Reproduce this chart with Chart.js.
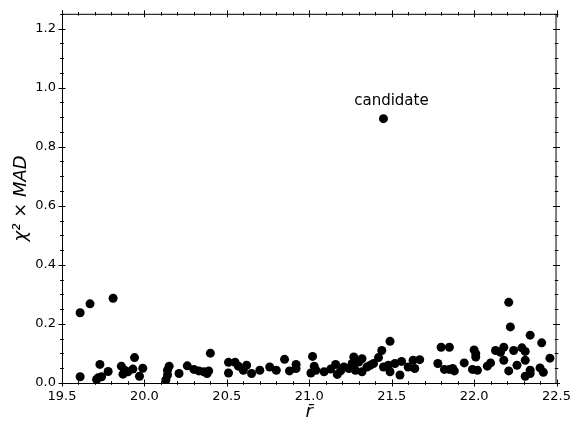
<!DOCTYPE html>
<html>
<head>
<meta charset="utf-8">
<script src="https://cdn.jsdelivr.net/npm/chart.js@4"></script>
<style>
  html, body { margin: 0; padding: 0; background: #fff; }
  #wrap { width: 577px; height: 424px; }
</style>
</head>
<body>
<div id="wrap"><canvas id="myChart"></canvas></div>
<script>
// mean r magnitude of each object
let rMean = [
  19.61, 19.67, 19.81, 19.61, 19.71, 19.72, 19.74, 19.73, 19.78, 19.86,
  19.87, 19.88, 19.90, 19.93, 19.94, 19.97, 19.99,
  20.13, 20.14, 20.14, 20.15, 20.21, 20.26, 20.30, 20.33, 20.36, 20.38,
  20.39, 20.40, 20.51, 20.51, 20.55, 20.57, 20.60, 20.62, 20.65,
  20.70, 20.76, 20.80, 20.85, 20.88, 20.92, 20.92, 21.02, 21.01, 21.03,
  21.04, 21.09, 21.13, 21.16, 21.17, 21.19, 21.21, 21.24, 21.26,
  21.27, 21.27, 21.28, 21.30, 21.32, 21.32, 21.35, 21.37, 21.39, 21.42,
  21.44, 21.45, 21.48, 21.49, 21.49, 21.52, 21.55, 21.56, 21.60, 21.63,
  21.64, 21.67, 21.78, 21.80, 21.82, 21.85, 21.85,
  21.87, 21.88, 21.94, 21.99, 22.00, 22.01, 22.01, 22.02, 22.08, 22.10,
  22.13, 22.16, 22.18, 22.18, 22.21, 22.22, 22.21, 22.24, 22.26, 22.29,
  22.31, 22.31, 22.31, 22.34, 22.34, 22.34, 22.41, 22.40, 22.42, 22.46
];
// chi^2 x MAD of each object
let chiMad = [
  0.238, 0.268, 0.287, 0.021, 0.012, 0.018, 0.021, 0.063, 0.039, 0.057,
  0.030, 0.043, 0.038, 0.047, 0.086, 0.023, 0.050,
  0.010, 0.027, 0.043, 0.057, 0.032, 0.058, 0.046, 0.041, 0.038, 0.032,
  0.041, 0.101, 0.070, 0.034, 0.070, 0.057, 0.043, 0.060, 0.032,
  0.043, 0.054, 0.043, 0.080, 0.041, 0.063, 0.049, 0.090, 0.034, 0.057,
  0.043, 0.038, 0.047, 0.063, 0.029, 0.041, 0.054, 0.049, 0.066,
  0.088, 0.066, 0.043, 0.071, 0.082, 0.038, 0.054, 0.060, 0.066, 0.086,
  0.110, 0.054, 0.060, 0.141, 0.038, 0.066, 0.027, 0.073, 0.054, 0.077,
  0.049, 0.079, 0.066, 0.121, 0.046, 0.121, 0.046,
  0.049, 0.041, 0.068, 0.046, 0.112, 0.099, 0.088, 0.043, 0.057, 0.068,
  0.110, 0.104, 0.077, 0.121, 0.273, 0.190, 0.041, 0.110, 0.060, 0.119,
  0.107, 0.077, 0.023, 0.162, 0.043, 0.032, 0.136, 0.051, 0.036, 0.084
];
let candidateX = [21.45];
let candidateY = [0.895];
let candidateLabel = ['candidate'];

let xTicks = [19.5, 20.0, 20.5, 21.0, 21.5, 22.0, 22.5];
let yTicks = [0.0, 0.2, 0.4, 0.6, 0.8, 1.0, 1.2];

let points = rMean.map((r, i) => ({x: r, y: chiMad[i]}));
candidateX.forEach((r, i) => points.push({x: r, y: candidateY[i]}));

Chart.defaults.font.family = '"DejaVu Sans", sans-serif';
Chart.defaults.color = '#000';

// frame + inout ticks on all four sides, and the annotation text
let frameTicks = {
  id: 'frameTicks',
  afterDraw(chart) {
    let ctx = chart.ctx;
    let a = chart.chartArea;
    let xs = chart.scales.x, ys = chart.scales.y;
    ctx.save();
    ctx.strokeStyle = '#000';
    ctx.lineWidth = 1;
    ctx.strokeRect(a.left + 0.5, a.top + 0.5, a.right - a.left - 1, a.bottom - a.top);

    let tick = (x1, y1, x2, y2) => {
      ctx.beginPath(); ctx.moveTo(x1, y1); ctx.lineTo(x2, y2); ctx.stroke();
    };
    for (let i = 0; i <= 30; i++) {
      let v = 19.5 + i * 0.1;
      let px = Math.round(xs.getPixelForValue(v)) + 0.5;
      let len = (i % 5 === 0) ? 3.5 : 1.8;
      tick(px, a.bottom - len, px, a.bottom + len);
      tick(px, a.top - len, px, a.top + len);
    }
    for (let i = 0; i <= 25; i++) {
      let v = i * 0.05;
      let py = Math.round(ys.getPixelForValue(v)) + 0.5;
      let len = (i % 4 === 0) ? 3.5 : 1.8;
      tick(a.left - len, py, a.left + len, py);
      tick(a.right - len, py, a.right + len, py);
    }

    ctx.fillStyle = '#000';
    ctx.font = '15px "DejaVu Sans", sans-serif';
    ctx.textAlign = 'center';
    ctx.textBaseline = 'alphabetic';
    candidateLabel.forEach((t, i) => {
      let px = xs.getPixelForValue(candidateX[i]);
      let py = ys.getPixelForValue(candidateY[i]);
      ctx.fillText(t, px + 8, py - 14);
    });
    ctx.restore();
  }
};

let chartEl = document.getElementById('myChart');
let myChart = new Chart(chartEl, {
  type: 'scatter',
  data: {
    datasets: [{
      data: points,
      backgroundColor: '#000',
      borderColor: '#000',
      borderWidth: 0,
      pointRadius: 4.5,
      pointHoverRadius: 4.5
    }]
  },
  options: {
    responsive: true,
    maintainAspectRatio: false,
    animation: false,
    events: [],
    layout: { padding: { top: 7, right: 15, left: 0, bottom: 0 } },
    plugins: {
      legend: { display: false },
      tooltip: { enabled: false }
    },
    scales: {
      x: {
        type: 'linear',
        min: 19.5,
        max: 22.5,
        grid: { display: false, drawTicks: false },
        border: { display: false },
        afterBuildTicks: s => { s.ticks = xTicks.map(v => ({value: v})); },
        afterFit: s => { s.height = 41; },
        ticks: {
          padding: 6,
          maxRotation: 0,
          font: { size: 13 },
          callback: v => Number(v).toFixed(1)
        },
        title: {
          display: true,
          text: 'r\u0304',
          font: { size: 18, style: 'italic' },
          padding: { top: 0, bottom: 1 }
        }
      },
      y: {
        type: 'linear',
        min: 0,
        max: 1.25,
        grid: { display: false, drawTicks: false },
        border: { display: false },
        afterBuildTicks: s => { s.ticks = yTicks.map(v => ({value: v})); },
        afterFit: s => { s.width = 62; },
        ticks: {
          padding: 6,
          font: { size: 13 },
          callback: v => Number(v).toFixed(1)
        },
        title: {
          display: true,
          text: 'χ² × MAD',
          font: { size: 18, style: 'italic' },
          padding: { top: 11, bottom: 0 }
        }
      }
    }
  },
  plugins: [frameTicks]
});
</script>
</body>
</html>
